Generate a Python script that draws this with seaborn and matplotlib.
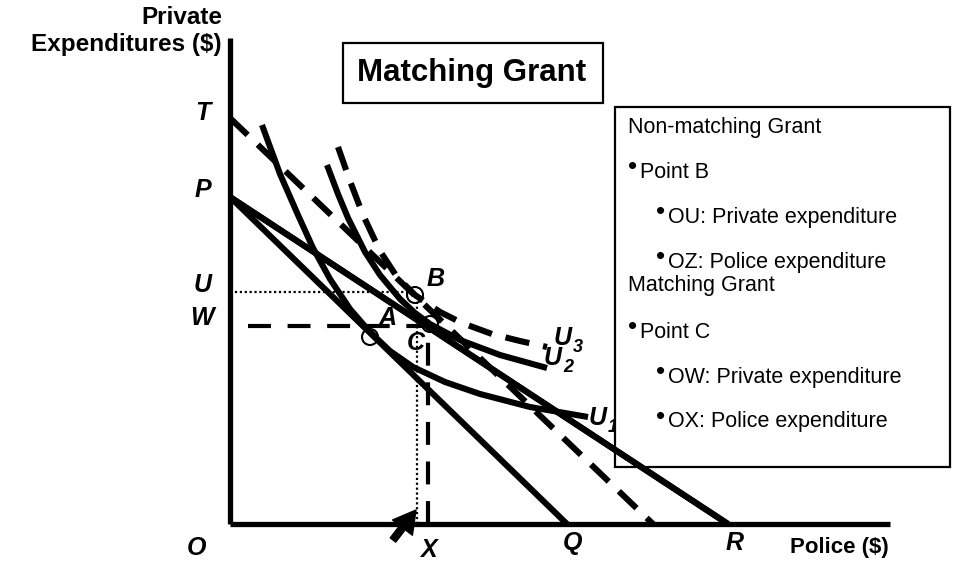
import numpy as np
import pandas as pd
import matplotlib
matplotlib.use("Agg")
import matplotlib.pyplot as plt
import seaborn as sns
from matplotlib.patches import Rectangle, Circle

sns.set_style("white")
plt.rcParams['font.family'] = ['Liberation Sans', 'DejaVu Sans']
plt.rcParams['text.color'] = 'black'

# ---- data (origin O = 0,0) ----
# budget lines
pq_x = [0, 337]
pq_y = [327, 0]
pr_x = [0, 498]
pr_y = [327, 0]
tr_x = [0, 423]          # non-matching grant (dashed)
tr_y = [406, 0]

# indifference curves
u1_x = [32, 50, 68, 83, 100, 120, 140, 160, 183, 215, 250, 300, 358]
u1_y = [399, 350, 309, 276, 245, 215, 192, 173, 157, 142, 130, 117, 107]
u2_x = [97, 108, 118, 135, 150, 170, 185, 200, 230, 270, 317]
u2_y = [359, 330, 306, 272, 249, 225, 211, 200, 184, 169, 156]
u3_x = [108, 120, 133, 150, 167, 185, 210, 232, 262, 290, 317]
u3_y = [377, 343, 309, 273, 247, 229, 212, 201, 190, 183, 177]

# equilibrium points
pt_names = ['A', 'B', 'C']
pt_x = [140, 185, 200]
pt_y = [187, 229, 200]

# box text
box_lines = ["Non-matching Grant", "Point B", "OU: Private expenditure",
             "OZ: Police expenditure", "Matching Grant", "Point C",
             "OW: Private expenditure", "OX: Police expenditure"]
box_levels = [0, 1, 2, 2, 0, 1, 2, 2]
box_y = [397, 352, 307, 262, 238, 192, 147, 102]

fig = plt.figure(figsize=(9.55, 5.61), dpi=100)
ax = fig.add_axes([0, 0, 1, 1])
ax.set_xlim(-230, 725)
ax.set_ylim(-37, 524)
ax.axis('off')

LW = 4.4
dash = (0, (4.0, 2.3))


def draw(xs, ys, ls='-', lw=LW, z=4):
    df = pd.DataFrame({'x': xs, 'y': ys})
    sns.lineplot(data=df, x='x', y='y', sort=False, estimator=None, ax=ax,
                 color='black', linewidth=lw, linestyle=ls, zorder=z,
                 solid_capstyle='butt', dash_capstyle='butt')


# axes
draw([0, 0], [0, 486], lw=3.8, z=5)
draw([0, 660], [0, 0], lw=3.8, z=5)

# budget lines
draw(pq_x, pq_y)
draw(pr_x, pr_y)
draw(tr_x, tr_y, ls=dash)

# indifference curves
draw(u1_x, u1_y, z=2)
draw(u2_x, u2_y)
draw(u3_x, u3_y, ls=dash)

# guide lines
draw([0, pt_x[1]], [pt_y[1] + 3, pt_y[1] + 3], ls=(0, (1, 1.2)), lw=1.6)
draw([pt_x[1] + 2, pt_x[1] + 2], [0, pt_y[1] - 6], ls=(0, (1, 1.2)), lw=1.6)
draw([18, pt_x[2]], [pt_y[2] - 2, pt_y[2] - 2], ls=(0, (5.5, 4)), lw=3.0)
draw([198, 198], [0, pt_y[2] - 6], ls=(0, (5.5, 4)), lw=3.0)

for x, y in zip(pt_x, pt_y):
    ax.add_patch(Circle((x, y), 8, fill=False, ec='black', lw=1.5, zorder=6))

lab = dict(fontsize=18, fontweight='bold', fontstyle='italic', ha='center', va='center')
ax.text(158, 206, 'A', **lab)
ax.text(206, 245, 'B', **lab)
ax.text(186, 181, 'C', **lab)
ax.text(-27, 411, 'T', **lab)
ax.text(-27, 334, 'P', **lab)
ax.text(-27, 239, 'U', **lab)
ax.text(-28, 206, 'W', **lab)
ax.text(-33, -24, 'O', **lab)
ax.text(198, -26, 'X', **lab)
ax.text(343, -19, 'Q', **lab)
ax.text(505, -19, 'R', **lab)

# curve labels with subscripts
for ux, uy, s in [(333, 186, '3'), (323, 166, '2'), (368, 106, '1')]:
    ax.text(ux, uy, 'U', zorder=2, **lab)
    ax.text(ux + 15, uy - 10, s, fontsize=13, fontweight='bold', fontstyle='italic',
            ha='center', va='center', zorder=2)

ax.text(-8, 506, 'Private', fontsize=17.5, fontweight='bold', ha='right', va='center')
ax.text(-8, 479, 'Expenditures ($)', fontsize=17.5, fontweight='bold', ha='right', va='center')
ax.text(560, -24, 'Police ($)', fontsize=16, fontweight='bold', ha='left', va='center')

# title box
ax.add_patch(Rectangle((113, 421), 260, 60, fill=True, fc='white', ec='black', lw=1.6, zorder=3))
ax.text(242, 451, 'Matching Grant', fontsize=22.5, fontweight='bold', ha='center', va='center', zorder=4)

# explanation box
ax.add_patch(Rectangle((385, 57), 335, 360, fill=True, fc='white', ec='black', lw=1.6, zorder=3))
for txt, lvl, y in zip(box_lines, box_levels, box_y):
    if lvl == 0:
        ax.text(398, y, txt, fontsize=15.5, ha='left', va='center', zorder=4)
    else:
        bx = 398 if lvl == 1 else 426
        ax.text(bx, y + 5, '\u2022', fontsize=19, ha='left', va='center', zorder=4)
        ax.text(bx + 12, y, txt, fontsize=15.5, ha='left', va='center', zorder=4)

# redraw line crossing the box corner
draw(pr_x, pr_y, z=5)

# arrow cursor
ax.annotate('', xy=(186, 14), xytext=(163, -16),
            arrowprops=dict(facecolor='black', edgecolor='black', width=5,
                            headwidth=18, headlength=16), zorder=6)

fig.savefig('out.png', dpi=100)
